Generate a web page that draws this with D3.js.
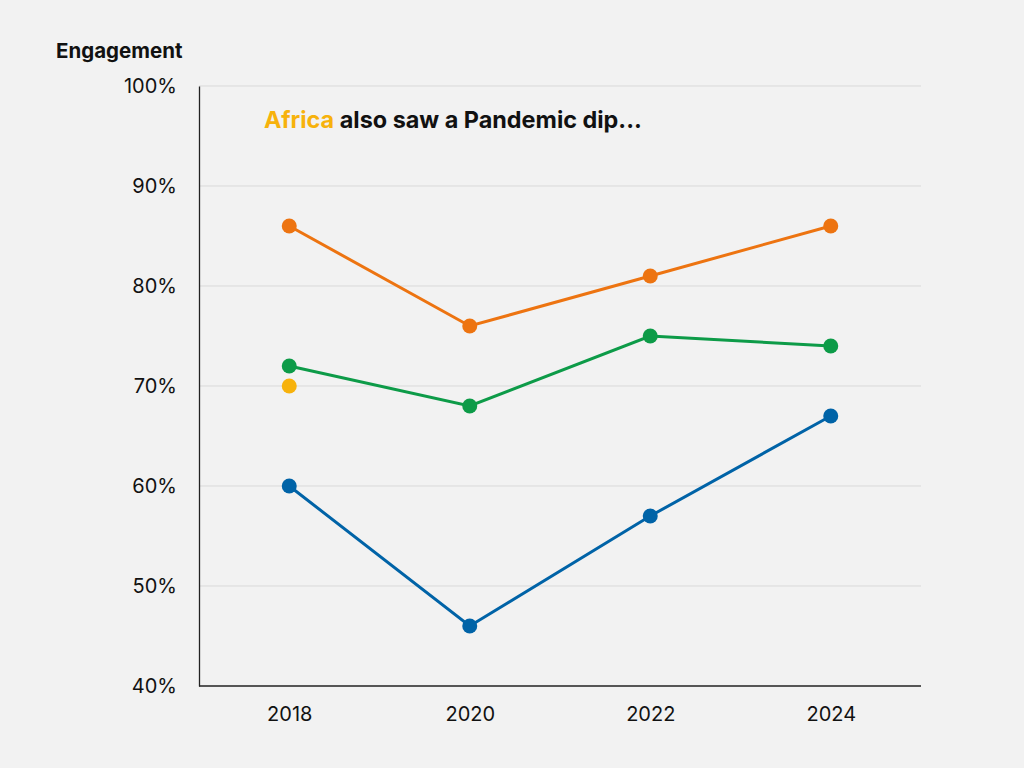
<!DOCTYPE html>
<html><head><meta charset="utf-8">
<script src="https://cdn.jsdelivr.net/npm/d3@7"></script>
<style>html,body{margin:0;padding:0;background:#f2f2f2;}svg{display:block;}</style>
</head><body>
<svg id="c" width="1024" height="768"></svg>
<script>
const years = ["2018", "2020", "2022", "2024"];
const seriesNames = ["Orange", "Green", "Blue", "Africa"];
const orangeValues = [86, 76, 81, 86];
const greenValues = [72, 68, 75, 74];
const blueValues = [60, 46, 57, 67];
const africaValues = [70, null, null, null];
const yTicks = [40, 50, 60, 70, 80, 90, 100];
const colors = {Orange: "#ED7411", Green: "#0D9B48", Blue: "#0063A7", Africa: "#F7B20C"};

(function(){
const svg = d3.select("#c");
svg.append("rect").attr("width", 1024).attr("height", 768).attr("fill", "#f2f2f2");
const mLeft = 199, mRight = 921, mTop = 86, mBottom = 686;
const x = d3.scalePoint().domain(years).range([mLeft, mRight]).padding(0.5);
const y = d3.scaleLinear().domain([40, 100]).range([mBottom, mTop]);
const font = "Inter, 'Open Sans', sans-serif";

svg.append("g").selectAll("line").data(yTicks.filter(t => t > 40)).join("line")
  .attr("x1", mLeft).attr("x2", mRight).attr("y1", d => y(d)).attr("y2", d => y(d))
  .attr("stroke", "#d9d9d9").attr("stroke-width", 1);

const ya = svg.append("g").attr("transform", `translate(${mLeft},0)`)
  .call(d3.axisLeft(y).tickValues(yTicks).tickFormat(d => d + "%").tickSize(0).tickPadding(22));
ya.select(".domain").attr("stroke", "#222").attr("stroke-width", 1.3);
ya.selectAll("text").attr("font-family", font).attr("font-size", 20).attr("fill", "#111");

const xa = svg.append("g").attr("transform", `translate(0,${mBottom})`)
  .call(d3.axisBottom(x).tickSize(0).tickPadding(21));
xa.select(".domain").attr("stroke", "#222").attr("stroke-width", 1.3).attr("d", `M${mLeft},0H${mRight}`);
xa.selectAll("text").attr("font-family", font).attr("font-size", 20).attr("fill", "#111");

const data = [
  {name: "Orange", values: orangeValues},
  {name: "Green", values: greenValues},
  {name: "Blue", values: blueValues},
  {name: "Africa", values: africaValues}
];
const line = d3.line().defined(d => d.v != null).x(d => x(d.year)).y(d => y(d.v));
data.forEach(s => {
  const pts = s.values.map((v, i) => ({year: years[i], v}));
  svg.append("path").datum(pts).attr("d", line).attr("fill", "none")
    .attr("stroke", colors[s.name]).attr("stroke-width", 3);
  svg.append("g").selectAll("circle").data(pts.filter(p => p.v != null)).join("circle")
    .attr("cx", d => x(d.year)).attr("cy", d => y(d.v)).attr("r", 7.5)
    .attr("fill", colors[s.name]);
});

svg.append("text").attr("x", 56).attr("y", 58).attr("font-family", font)
  .attr("font-size", 20.5).attr("font-weight", 700).attr("fill", "#111").text("Engagement");

const ann = svg.append("text").attr("x", 264).attr("y", 128).attr("font-family", font)
  .attr("font-size", 23.4).attr("font-weight", 700).attr("fill", "#111");
ann.append("tspan").attr("fill", colors.Africa).text("Africa");
ann.append("tspan").text(" also saw a Pandemic dip...");
})();
</script>
</body></html>
